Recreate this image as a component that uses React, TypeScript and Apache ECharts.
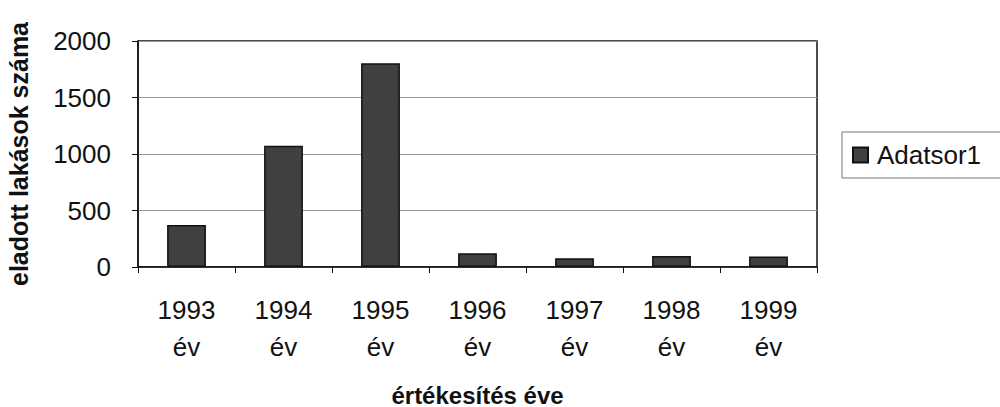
import React, { useEffect, useRef } from "react";
import * as echarts from "echarts";

const categories = ["1993\név", "1994\név", "1995\név", "1996\név", "1997\név", "1998\név", "1999\név"];
const values = [372, 1073, 1802, 121, 77, 97, 92];
const seriesName = "Adatsor1";
const yTicks = { min: 0, max: 2000, interval: 500 };

const FONT = "'Liberation Sans', Arial, sans-serif";

export default function App() {
  const ref = useRef<HTMLDivElement>(null);
  useEffect(() => {
    document.body.style.margin = "0";
    const chart = echarts.init(ref.current!, null, { renderer: "svg" });
    chart.setOption({
      animation: false,
      backgroundColor: "#ffffff",
      textStyle: { fontFamily: FONT },
      grid: {
        left: 138,
        right: 183,
        top: 41,
        bottom: 140,
        show: true,
        borderColor: "#111",
        borderWidth: 1.5,
        containLabel: false,
        outerBoundsMode: "none",
      },
      legend: {
        left: 842,
        top: 132,
        data: [seriesName],
        icon: "rect",
        itemWidth: 15,
        itemHeight: 15,
        itemGap: 4,
        borderColor: "#777",
        borderWidth: 1,
        borderRadius: 0,
        padding: [10, 60, 10, 10],
        textStyle: { fontSize: 26, color: "#111", fontFamily: FONT, padding: [0, 0, 0, 4] },
      },
      xAxis: {
        type: "category",
        data: categories,
        name: "értékesítés éve",
        nameLocation: "middle",
        nameGap: 116,
        nameTextStyle: { fontSize: 24, fontWeight: "bold", color: "#111", fontFamily: FONT },
        axisLine: { lineStyle: { color: "#111", width: 1.5 } },
        axisTick: { show: true, length: 6, lineStyle: { color: "#111" } },
        axisLabel: {
          fontSize: 26,
          color: "#111",
          lineHeight: 37,
          margin: 24,
          fontFamily: FONT,
        },
      },
      yAxis: {
        type: "value",
        min: yTicks.min,
        max: yTicks.max,
        interval: yTicks.interval,
        name: "eladott lakások száma",
        nameLocation: "middle",
        nameGap: 107,
        nameTextStyle: { fontSize: 25, fontWeight: "bold", color: "#111", fontFamily: FONT },
        axisLine: { show: true, lineStyle: { color: "#111", width: 1.5 } },
        axisTick: { show: true, length: 6, lineStyle: { color: "#111" } },
        axisLabel: {
          fontSize: 26,
          color: "#111",
          margin: 27,
          fontFamily: FONT,
          formatter: (v: number) => String(v),
        },
        splitLine: { show: true, lineStyle: { color: "#999", width: 1 } },
      },
      series: [
        {
          name: seriesName,
          type: "bar",
          data: values,
          barWidth: "40%",
          itemStyle: { color: "#404040", borderColor: "#111", borderWidth: 1.5 },
        },
      ],
    });
    return () => chart.dispose();
  }, []);
  return (
    <div
      ref={ref}
      style={{ position: "fixed", left: 0, top: 0, width: 1000, height: 407 }}
    />
  );
}
